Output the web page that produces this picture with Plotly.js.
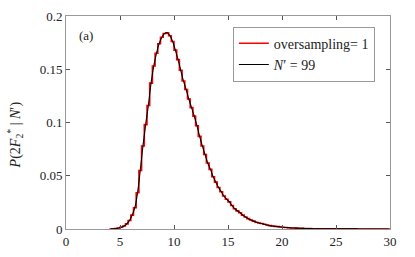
<!DOCTYPE html>
<html><head><meta charset="utf-8">
<script src="https://cdn.plot.ly/plotly-3.0.1.min.js"></script>
<style>html,body{margin:0;padding:0;background:#fff}#chart{width:415px;height:257px}</style>
</head><body><div id="chart"></div>
<script>
// bin left edges (width 0.25) from 4 to 30
const binStart = 4, binWidth = 0.25;
const probValues = [
0.0000,0.0002,0.0005,0.0010,0.0017,0.0028,0.0048,0.0080,
0.0130,0.0200,0.0340,0.0550,0.0780,0.0980,0.1160,0.1370,
0.1530,0.1650,0.1740,0.1800,0.1835,0.1842,0.1815,0.1760,
0.1680,0.1590,0.1490,0.1390,0.1310,0.1220,0.1140,0.1060,
0.0970,0.0870,0.0780,0.0700,0.0620,0.0560,0.0490,0.0440,
0.0390,0.0350,0.0310,0.0280,0.0255,0.0220,0.0190,0.0170,
0.0152,0.0130,0.0112,0.0097,0.0085,0.0074,0.0064,0.0057,
0.0051,0.0044,0.0038,0.0032,0.0028,0.0025,0.0022,0.0019,
0.0016,0.0014,0.0012,0.0010,0.0009,0.0008,0.0007,0.0006,
0.0005,0.0004,0.0004,0.0003,0.0003,0.0003,0.0002,0.0002,
0.0002,0.0002,0.0001,0.0001,0.0001,0.0001,0.0001,0.0001,
0.0001,0.0001,0.0001,0.0001,0.0000,0.0000,0.0000,0.0000,
0.0000,0.0000,0.0000,0.0000,0.0000,0.0000,0.0000,0.0000
];
const xTickVals = [0,5,10,15,20,25,30];
const yTickVals = [0,0.05,0.1,0.15,0.2];
const yTickText = ['0','0.05','0.1','0.15','0.2'];
const seriesNames = ['oversampling= 1', '<i>N</i>′ = 99'];
const yTitle = '<i>P</i>(2<i>F</i><sub>2</sub><sup>*</sup> | <i>N</i>′)';

const edges = probValues.map((v,i)=>binStart+i*binWidth);
const stepX = edges.concat([binStart+probValues.length*binWidth]);
const stepY = probValues.concat([probValues[probValues.length-1]]);
const centers = probValues.map((v,i)=>binStart+(i+0.5)*binWidth);

const serif = 'Liberation Serif, Times New Roman, serif';
const traces = [
 {x: stepX, y: stepY, mode:'lines', line:{shape:'hv', color:'#ff0000', width:1.6}, name: seriesNames[0]},
 {x: centers, y: probValues, mode:'lines', line:{shape:'spline', color:'#000000', width:1.1}, name: seriesNames[1]}
];
const axisCommon = {showgrid:false, zeroline:false, showline:true, mirror:'ticks', linecolor:'#999', linewidth:1,
  ticks:'inside', ticklen:4, tickcolor:'#555', tickfont:{family:serif, size:13, color:'#222'}};
const layout = {
  width:415, height:257, margin:{l:66, r:25, t:16, b:28},
  paper_bgcolor:'#fff', plot_bgcolor:'#fff', showlegend:true,
  font:{family:serif},
  xaxis: Object.assign({}, axisCommon, {range:[0,30], tickvals:xTickVals, ticktext:xTickVals.map(String)}),
  yaxis: Object.assign({}, axisCommon, {range:[0,0.2], tickvals:yTickVals, ticktext:yTickText}),
  legend:{x:0.515, y:0.95, xanchor:'left', yanchor:'top', bordercolor:'#999', borderwidth:1, bgcolor:'#fff',
     font:{family:serif, size:14, color:'#222'}, tracegroupgap:0, itemwidth:30},
  annotations:[
    {text:'(a)', x:0.035, y:0.91, xref:'paper', yref:'paper', xanchor:'left', yanchor:'middle', showarrow:false,
     font:{family:serif, size:13, color:'#222'}},
    {text:yTitle, x:-0.157, y:0.44, xref:'paper', yref:'paper', xanchor:'center', yanchor:'middle', showarrow:false,
     textangle:-90, font:{family:serif, size:14, color:'#222'}}
  ]
};
Plotly.newPlot('chart', traces, layout, {displayModeBar:false, staticPlot:true});
</script></body></html>
